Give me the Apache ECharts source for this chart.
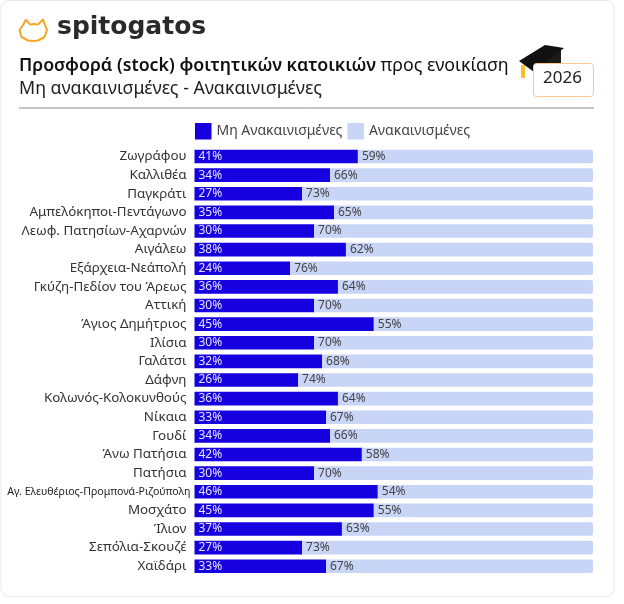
<!DOCTYPE html>
<html><head><meta charset="utf-8">
<style>html,body{margin:0;padding:0;background:#fff}#c{width:624px;height:604px}</style>
<script src="https://cdn.jsdelivr.net/npm/echarts@6/dist/echarts.min.js"></script></head>
<body><div id="c"></div>
<script>
const categories = ["Ζωγράφου","Καλλιθέα","Παγκράτι","Αμπελόκηποι-Πεντάγωνο","Λεωφ. Πατησίων-Αχαρνών","Αιγάλεω","Εξάρχεια-Νεάπολή","Γκύζη-Πεδίον του Άρεως","Αττική","Άγιος Δημήτριος","Ιλίσια","Γαλάτσι","Δάφνη","Κολωνός-Κολοκυνθούς","Νίκαια","Γουδί","Άνω Πατήσια","Πατήσια","Αγ. Ελευθέριος-Προμπονά-Ριζούπολη","Μοσχάτο","Ίλιον","Σεπόλια-Σκουζέ","Χαϊδάρι"];
const notRenovated = [41,34,27,35,30,38,24,36,30,45,30,32,26,36,33,34,42,30,46,45,37,27,33];
const renovated = [59,66,73,65,70,62,76,64,70,55,70,68,74,64,67,66,58,70,54,55,63,73,67];
const seriesNames = ["Μη Ανακαινισμένες","Ανακαινισμένες"];
const titleBold = "Προσφορά (stock) φοιτητικών κατοικιών";
const titleRest = " προς ενοικίαση";
const subtitle = "Μη ανακαινισμένες - Ανακαινισμένες";
const FONT = "'Noto Sans', sans-serif";
const chart = echarts.init(document.getElementById('c'), null, {renderer:'canvas'});
chart.setOption({
  animation:false,
  backgroundColor:'#fff',
  textStyle:{fontFamily:FONT},
  title:[
    {left:19,top:57,padding:0,text:'{b|'+titleBold+'}{r|'+titleRest+'}',textStyle:{rich:{
      b:{fontFamily:FONT,fontSize:17.8,fontWeight:600,color:'#111'},
      r:{fontFamily:FONT,fontSize:17.8,fontWeight:400,color:'#111'}}}},
    {left:19,top:80,padding:0,text:subtitle,textStyle:{fontFamily:FONT,fontSize:17.8,fontWeight:400,color:'#222'}}
  ],
  legend:{left:195,top:123,padding:0,itemWidth:16.5,itemHeight:16.5,itemGap:5,icon:'rect',
    textStyle:{fontFamily:FONT,fontSize:14,color:'#444',padding:[2,0,0,0]},data:seriesNames},
  grid:{left:194.5,right:31,top:147.2,bottom:28.4,containLabel:false},
  xAxis:{type:'value',min:0,max:100,show:false},
  yAxis:{type:'category',inverse:true,
    data:categories.map(c=>c.length>30?{value:c,textStyle:{fontSize:10.6,color:'#222',padding:[2,-4,0,0]}}:c),
    axisLine:{show:false},axisTick:{show:false},
    axisLabel:{interval:0,fontFamily:FONT,fontSize:13.4,color:'#333',margin:8,padding:[2,0,0,0]}},
  series:[
    {name:seriesNames[0],type:'bar',stack:'a',data:notRenovated,barWidth:13.6,
     itemStyle:{color:'#1600e0'},
     label:{show:true,position:'insideLeft',distance:4,padding:[2,0,0,0],formatter:'{c}%',fontFamily:FONT,fontSize:12,color:'#e4e4ff'}},
    {name:seriesNames[1],type:'bar',stack:'a',data:renovated,barWidth:13.6,
     itemStyle:{color:'#c9d5f7',borderRadius:[0,2,2,0]},
     label:{show:true,position:'insideLeft',distance:4,padding:[2,0,0,0],formatter:'{c}%',fontFamily:FONT,fontSize:12,color:'#444'}}
  ],
  graphic:[
    {type:'rect',z:-1,shape:{x:1,y:0.5,width:613,height:596,r:8},style:{fill:'#fff',stroke:'#e8e8e8',lineWidth:1}},
    {type:'line',shape:{x1:19,y1:108,x2:594,y2:108},style:{stroke:'#8a8a8a',lineWidth:1}},
    // logo
    {type:'polyline',shape:{points:[[26,19.5],[30,24.5],[34,24],[38,24.5],[43,19.5],[45,25],[47,30],[44.5,37],[38,40.5],[33,41],[28,40.5],[21.5,37],[19.5,30],[23,25],[26,19.5]]},
     style:{fill:'none',stroke:'#f6a623',lineWidth:2,lineJoin:'round'}},
    {type:'text',left:57,top:15,style:{text:'spitogatos',font:"700 25px 'DejaVu Sans',sans-serif",fill:'#2a2a2c'}},
    // cap
    {type:'polygon',shape:{points:[[536,58],[561,50],[561,64],[536,73]]},style:{fill:'#1c1c1c'}},
    {type:'polygon',shape:{points:[[519,61],[545,45],[564,48],[534,72]]},style:{fill:'#111'}},
    {type:'rect',shape:{x:521,y:65,width:4,height:13,r:1},style:{fill:'#f5c030'}},
    // year badge
    {type:'rect',shape:{x:533.5,y:63.5,width:60,height:33,r:3},style:{fill:'#fff',stroke:'#f6c98a',lineWidth:1}},
    {type:'text',left:543,top:70,style:{text:'2026',font:"400 17px 'Noto Sans',sans-serif",fill:'#222'}}
  ]
});
</script></body></html>
